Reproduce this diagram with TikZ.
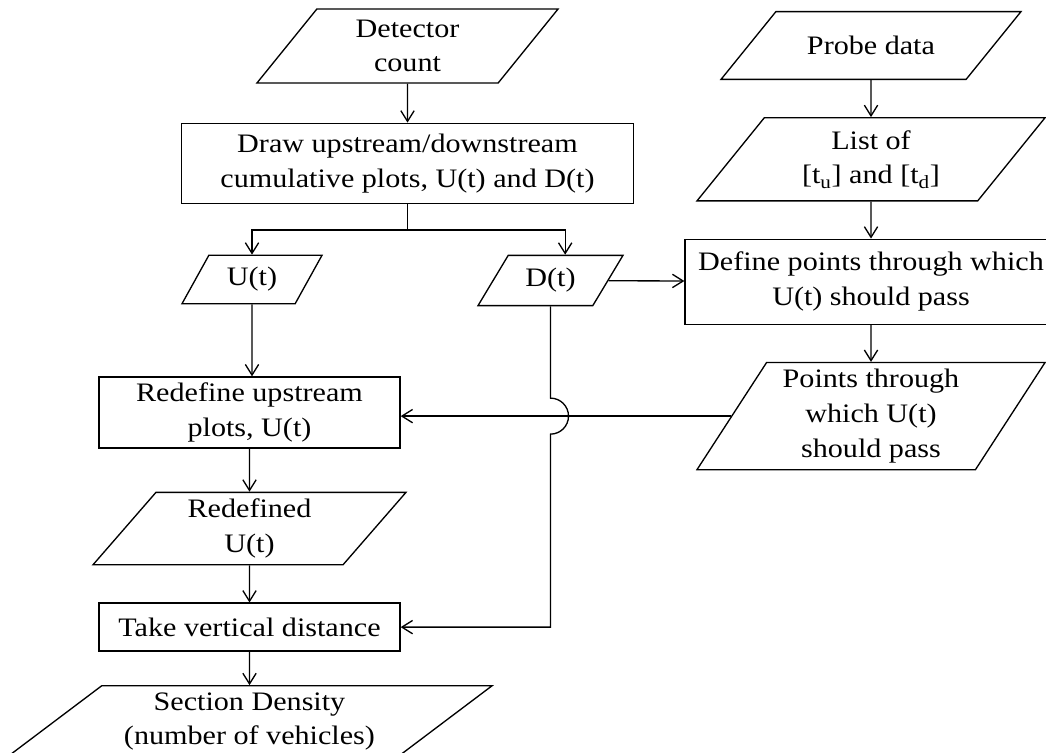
\documentclass[tikz,border=0pt]{standalone}
\usepackage{fontspec}
\setmainfont{Liberation Serif}[FakeStretch=1.13]
\usetikzlibrary{positioning,shapes.geometric,arrows.meta}
\tikzset{
  box/.style={draw, rectangle, align=center, inner sep=1pt},
  io/.style 2 args={draw, trapezium, trapezium left angle=#1, trapezium right angle={180-#1},
    trapezium stretches body, align=center, inner xsep=1pt, inner ysep=#2},
  >={Straight Barb[length=8pt,width=10pt]}
}

\begin{document}
\begin{tikzpicture}[x=0.75pt, y=-0.75pt, node distance=27.75pt, line width=1pt,
  font=\fontsize{20}{26}\selectfont]
\useasboundingbox (0,0) rectangle (1046,753);
\node[io={51}{8.05pt}, minimum width=225.75pt] (det) at (407.5,46) {Detector\\count};
  \node[box, minimum width=339pt, minimum height=60pt, below=29.25pt of det] (drw) {Draw upstream/downstream\\cumulative plots, U(t) and D(t)};
  \node[io={61}{9.1pt}, minimum width=105pt] (ut) at (252,279.5) {U(t)};
  \node[io={59}{9.8pt}, minimum width=108.75pt] (dt) at (550.5,280.5) {D(t)};
  \node[box, minimum width=225.75pt, minimum height=53.25pt] (redef) at (249.5,412.5) {Redefine upstream\\plots, U(t)};
  \node[io={49}{5pt}, minimum width=234.75pt, below=32.25pt of redef] (redefd) {Redefined\\U(t)};
  \node[box, minimum width=225.75pt, minimum height=36pt, below=of redefd] (take) {Take vertical distance};
  \node[io={37}{5pt}, minimum width=363.75pt, below=25pt of take] (sect) {Section Density\\(number of vehicles)};
\node[io={51}{18.4pt}, minimum width=225pt] (probe) at (871,45.5) {Probe data};
  \node[io={51}{9.5pt}, minimum width=261pt, below=of probe] (list) {List of\\{[t\textsubscript{u}] and [t\textsubscript{d}]}};
  \node[box, minimum width=279pt, minimum height=63.75pt, below=of list] (define) {Define points through which\\U(t) should pass};
  \node[io={57}{5.1pt}, minimum width=261pt, below=of define] (pts) {Points through\\which U(t)\\should pass};
  \coordinate (hop) at (dt.south |- pts.west);
  \draw[->] (det) -- (drw);
  \draw (drw.south) -- ++(0,26) coordinate (split);
  \draw[->] (split) -| (ut.north);
  \draw[->] (split) -| ([xshift=11pt]dt.north);
  \draw[->] (ut) -- (ut |- redef.north);
  \draw[->] (dt) -- (define);
  \draw[->] (redef) -- (redefd);
  \draw[->] (redefd) -- (take);
  \draw[->] (take) -- (sect);
  \draw[->] (probe) -- (list);
  \draw[->] (list) -- (define);
  \draw[->] (define) -- (pts);
  \draw[->] (pts.west) -- (pts.west -| redef.east);
  \draw[->] (dt.south) -- ([yshift=13.5pt]hop) arc[start angle=90, end angle=-90, radius=13.5pt]
    -- (hop |- take.east) -- (take.east);
\end{tikzpicture}
\end{document}
